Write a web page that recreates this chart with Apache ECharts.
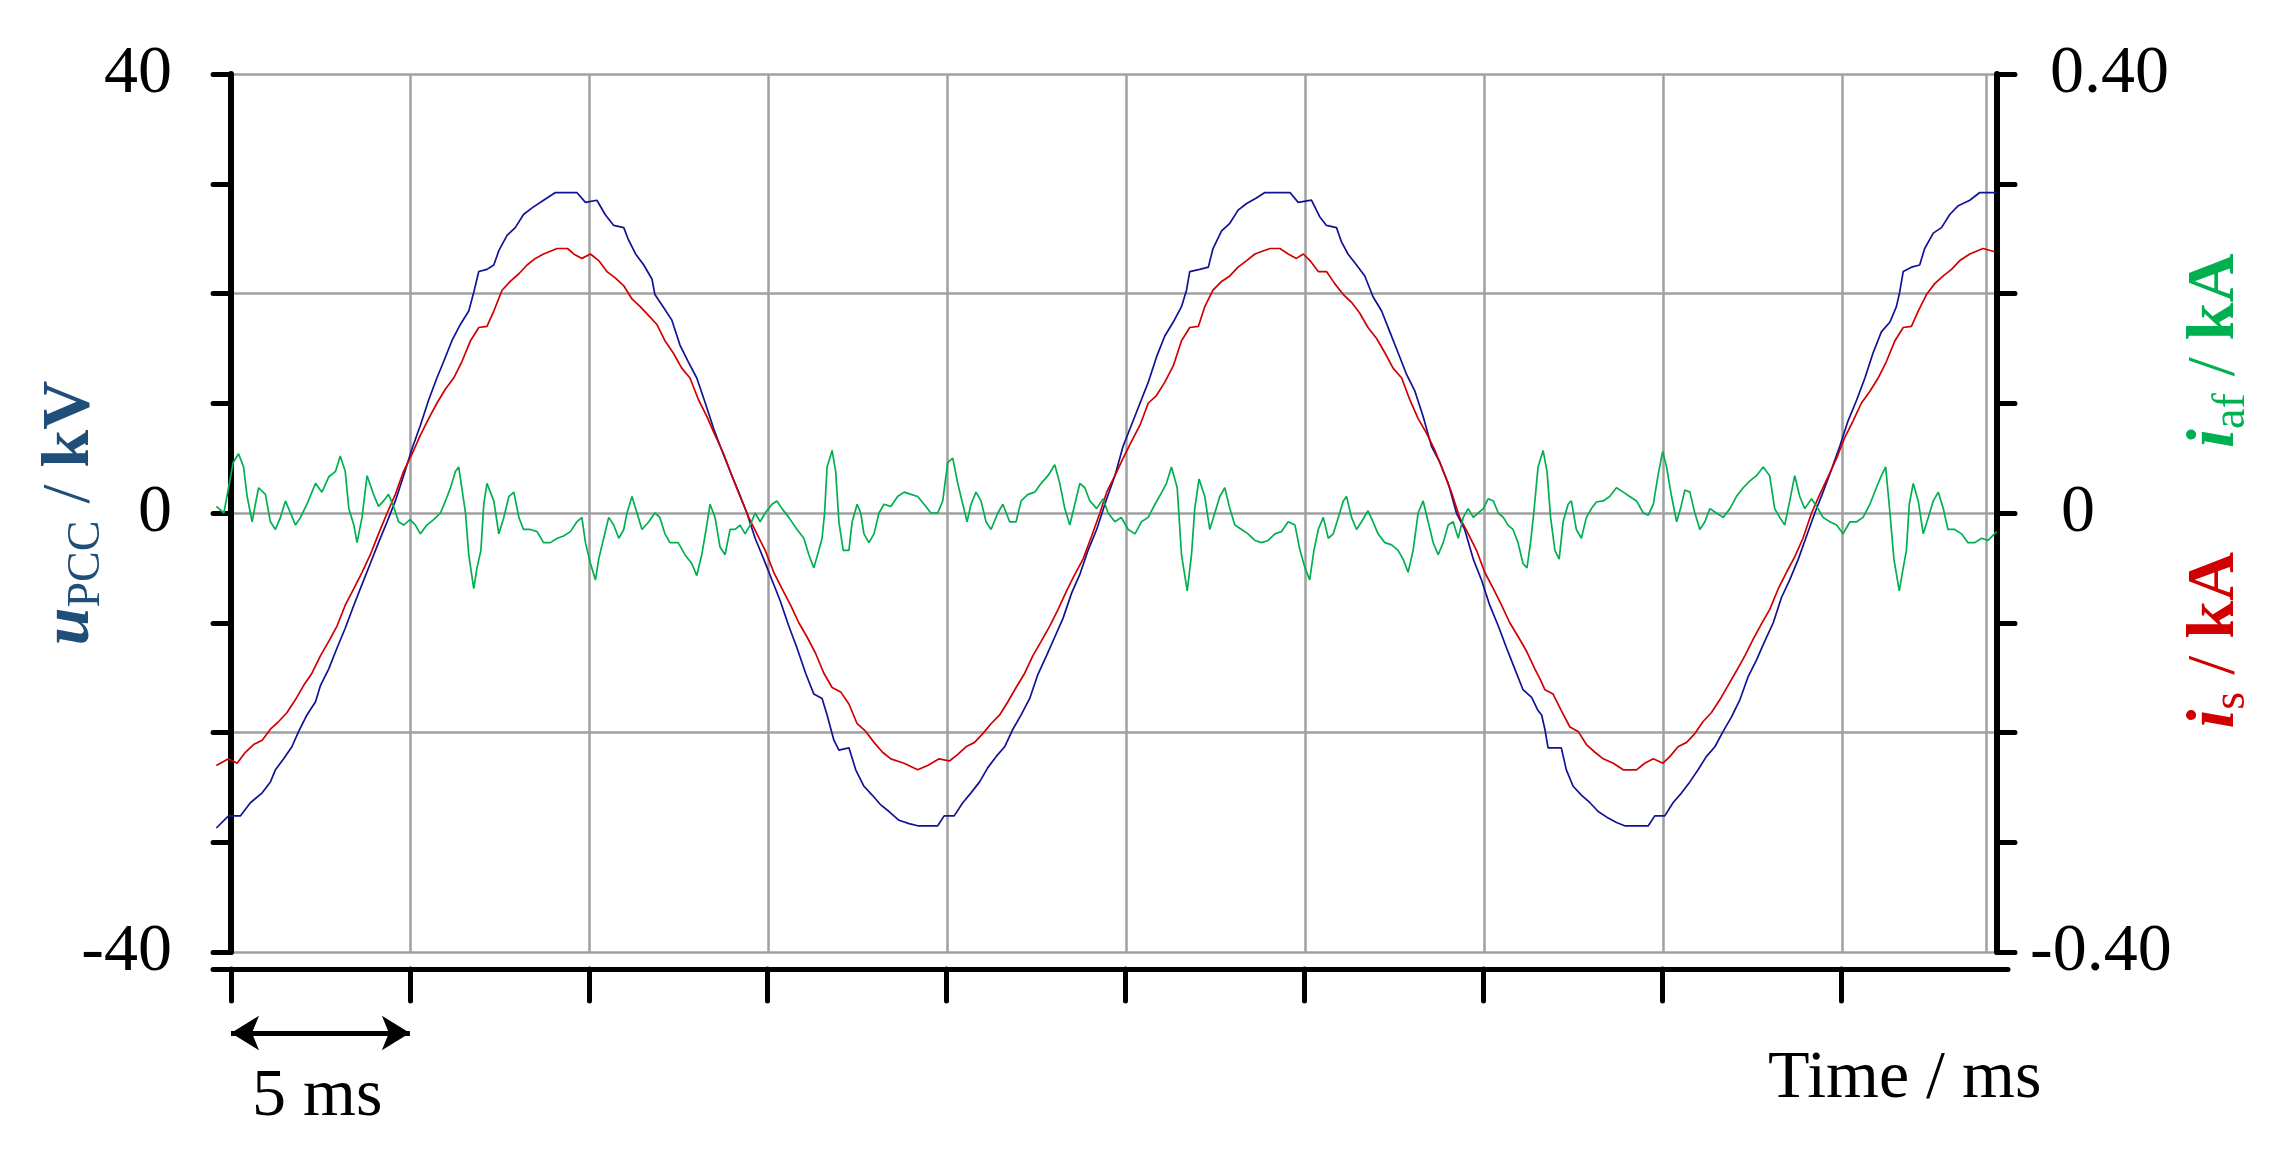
<!DOCTYPE html>
<html>
<head>
<meta charset="utf-8">
<script src="https://cdn.jsdelivr.net/npm/echarts@6/dist/echarts.min.js"></script>
<style>html,body{margin:0;padding:0;background:#fff;}#c{width:2282px;height:1157px;}</style>
</head>
<body>
<div id="c"></div>
<script>
// ---------- DATA (time in ms) ----------
const uTicksKV = [40, 0, -40];
const iTicksKA = ['0.40', '0', '-0.40'];
const scaleBarMs = [0, 5];

// u_PCC [ms, kV]
const uPCC = [
[-0.41,-28.7],[-0.07,-27.6],[0.26,-27.6],[0.54,-26.4],[0.87,-25.5],[1.10,-24.5],[1.24,-23.4],[1.47,-22.4],[1.70,-21.3],[1.89,-19.9],
[2.12,-18.4],[2.36,-17.2],[2.50,-15.7],[2.73,-14.2],[2.96,-12.3],[3.19,-10.5],[3.43,-8.4],[3.66,-6.5],[3.89,-4.6],[4.12,-2.7],
[4.36,-0.8],[4.59,1.1],[4.82,3.4],[5.06,5.9],[5.29,8.0],[5.52,10.3],[5.75,12.3],[5.94,13.8],[6.17,15.7],[6.41,17.2],
[6.64,18.4],[6.78,20.1],[6.92,22.0],[7.15,22.2],[7.34,22.6],[7.48,23.9],[7.71,25.3],[7.94,26.0],[8.17,27.2],[8.41,27.8],
[8.73,28.5],[9.06,29.2],[9.66,29.2],[9.90,28.3],[10.22,28.5],[10.45,27.2],[10.69,26.2],[10.97,26.0],[11.10,24.9],[11.30,23.6],
[11.53,22.6],[11.76,21.3],[11.84,19.9],[12.07,18.8],[12.31,17.6],[12.54,15.3],[12.77,13.8],[13.01,12.3],[13.24,10.1],[13.48,7.7],
[13.71,5.7],[13.94,3.8],[14.18,1.9],[14.41,0],[14.64,-2.3],[14.88,-4.2],[15.11,-6.1],[15.34,-8.0],[15.58,-10.3],[15.81,-12.3],
[16.05,-14.6],[16.28,-16.5],[16.51,-16.9],[16.65,-18.4],[16.84,-20.7],[16.98,-21.6],[17.26,-21.4],[17.45,-23.4],[17.68,-24.9],[17.91,-25.7],
[18.15,-26.6],[18.38,-27.2],[18.66,-28.0],[18.94,-28.3],[19.18,-28.5],[19.74,-28.5],[19.92,-27.6],[20.20,-27.6],[20.44,-26.4],[20.67,-25.5],
[20.91,-24.5],[21.14,-23.2],[21.37,-22.2],[21.61,-21.3],[21.84,-19.7],[22.07,-18.4],[22.31,-16.9],[22.54,-14.7],[22.78,-13.0],[23.01,-11.3],
[23.24,-9.6],[23.48,-7.3],[23.71,-5.6],[23.94,-3.4],[24.18,-1.5],[24.46,1.3],[24.69,3.4],[24.92,6.1],[25.15,8.0],[25.39,10.0],
[25.62,11.9],[25.85,14.2],[26.08,16.1],[26.32,17.4],[26.55,18.8],[26.69,20.3],[26.78,22.0],[27.06,22.2],[27.30,22.4],[27.43,24.1],
[27.67,25.7],[27.90,26.4],[28.13,27.6],[28.37,28.2],[28.64,28.7],[28.88,29.2],[29.58,29.2],[29.81,28.3],[30.18,28.5],[30.41,27.0],
[30.60,26.2],[30.88,26.0],[31.02,24.7],[31.20,23.6],[31.44,22.6],[31.67,21.6],[31.90,19.7],[32.14,18.4],[32.37,16.5],[32.60,14.6],
[32.84,12.6],[33.07,11.1],[33.30,8.8],[33.53,6.1],[33.77,4.6],[34.00,2.7],[34.23,0],[34.46,-1.5],[34.70,-4.2],[34.93,-6.1],
[35.16,-8.4],[35.40,-10.3],[35.63,-12.3],[35.86,-14.2],[36.09,-16.1],[36.33,-16.8],[36.51,-18.0],[36.61,-18.4],[36.70,-19.7],[36.79,-21.4],
[37.16,-21.4],[37.30,-23.4],[37.49,-24.9],[37.72,-25.7],[37.96,-26.4],[38.19,-27.2],[38.47,-27.8],[38.70,-28.2],[38.93,-28.5],[39.59,-28.5],
[39.77,-27.6],[40.05,-27.6],[40.28,-26.4],[40.52,-25.5],[40.75,-24.5],[40.98,-23.4],[41.21,-22.2],[41.45,-21.3],[41.68,-19.9],[41.91,-18.6],
[42.15,-17.0],[42.38,-14.9],[42.61,-13.4],[42.84,-11.7],[43.08,-10.0],[43.31,-7.7],[43.54,-6.1],[43.78,-4.2],[44.01,-2.1],[44.24,0],
[44.47,1.9],[44.71,4.0],[44.94,6.1],[45.17,8.4],[45.41,10.3],[45.64,12.3],[45.87,14.6],[46.10,16.5],[46.34,17.4],[46.52,18.8],
[46.61,20.1],[46.71,22.0],[46.94,22.4],[47.17,22.6],[47.31,24.1],[47.55,25.5],[47.78,26.0],[48.01,27.2],[48.25,28.0],[48.57,28.5],
[48.85,29.2],[49.32,29.2]
];

// i_s [ms, kA]
const iS = [
[-0.41,-0.230],[-0.07,-0.224],[0.17,-0.228],[0.40,-0.218],[0.63,-0.211],[0.87,-0.207],[1.10,-0.197],[1.33,-0.190],[1.56,-0.182],[1.80,-0.170],
[2.03,-0.157],[2.26,-0.146],[2.50,-0.130],[2.73,-0.117],[2.96,-0.103],[3.19,-0.084],[3.43,-0.069],[3.66,-0.054],[3.89,-0.038],[4.12,-0.019],
[4.36,0],[4.59,0.017],[4.82,0.038],[5.06,0.054],[5.29,0.071],[5.52,0.086],[5.75,0.100],[5.99,0.113],[6.22,0.123],[6.45,0.138],
[6.69,0.157],[6.92,0.169],[7.15,0.170],[7.34,0.184],[7.57,0.203],[7.80,0.211],[8.04,0.218],[8.27,0.226],[8.50,0.232],[8.73,0.236],
[9.11,0.241],[9.40,0.241],[9.57,0.236],[9.80,0.232],[10.04,0.236],[10.27,0.230],[10.50,0.220],[10.74,0.214],[10.97,0.207],[11.20,0.195],
[11.43,0.188],[11.66,0.180],[11.89,0.172],[12.12,0.157],[12.35,0.146],[12.59,0.132],[12.82,0.123],[13.06,0.103],[13.29,0.088],[13.52,0.071],
[13.76,0.054],[13.99,0.034],[14.22,0.015],[14.46,-0.004],[14.69,-0.019],[14.92,-0.034],[15.16,-0.054],[15.39,-0.069],[15.63,-0.084],[15.86,-0.100],
[16.09,-0.113],[16.33,-0.128],[16.56,-0.146],[16.79,-0.159],[17.03,-0.163],[17.26,-0.174],[17.49,-0.192],[17.73,-0.199],[17.96,-0.209],[18.20,-0.218],
[18.43,-0.224],[18.80,-0.228],[19.18,-0.234],[19.46,-0.230],[19.78,-0.224],[20.07,-0.226],[20.30,-0.220],[20.53,-0.213],[20.77,-0.209],[21.00,-0.201],
[21.23,-0.192],[21.47,-0.184],[21.70,-0.172],[21.93,-0.159],[22.17,-0.146],[22.40,-0.130],[22.63,-0.117],[22.87,-0.103],[23.10,-0.088],[23.34,-0.071],
[23.57,-0.056],[23.80,-0.042],[24.04,-0.021],[24.27,0],[24.46,0.019],[24.69,0.034],[24.92,0.050],[25.15,0.065],[25.39,0.080],[25.62,0.100],
[25.85,0.107],[26.08,0.119],[26.32,0.134],[26.55,0.157],[26.78,0.169],[27.02,0.170],[27.20,0.188],[27.43,0.203],[27.67,0.211],[27.90,0.216],
[28.13,0.224],[28.37,0.230],[28.60,0.236],[29.02,0.241],[29.30,0.241],[29.53,0.236],[29.76,0.232],[29.95,0.236],[30.14,0.230],[30.37,0.220],
[30.60,0.220],[30.83,0.209],[31.07,0.199],[31.30,0.192],[31.53,0.182],[31.76,0.169],[32.00,0.159],[32.23,0.146],[32.46,0.132],[32.70,0.123],
[32.93,0.103],[33.16,0.086],[33.39,0.073],[33.63,0.057],[33.86,0.038],[34.09,0.019],[34.32,-0.004],[34.56,-0.019],[34.79,-0.034],[35.02,-0.054],
[35.26,-0.069],[35.49,-0.084],[35.72,-0.100],[35.96,-0.113],[36.19,-0.126],[36.42,-0.142],[36.56,-0.151],[36.70,-0.161],[36.93,-0.165],[37.16,-0.180],
[37.40,-0.195],[37.63,-0.199],[37.86,-0.211],[38.10,-0.218],[38.33,-0.224],[38.61,-0.228],[38.89,-0.234],[39.26,-0.234],[39.49,-0.228],[39.73,-0.224],
[40.00,-0.228],[40.19,-0.222],[40.42,-0.213],[40.66,-0.209],[40.89,-0.201],[41.12,-0.190],[41.35,-0.182],[41.59,-0.170],[41.82,-0.157],[42.05,-0.144],
[42.29,-0.130],[42.52,-0.115],[42.75,-0.101],[42.98,-0.088],[43.22,-0.069],[43.45,-0.054],[43.68,-0.040],[43.91,-0.023],[44.15,0],[44.38,0.017],
[44.61,0.033],[44.85,0.050],[45.08,0.069],[45.31,0.084],[45.54,0.100],[45.78,0.111],[46.01,0.123],[46.24,0.138],[46.48,0.157],[46.71,0.169],
[46.94,0.170],[47.13,0.184],[47.36,0.199],[47.59,0.209],[47.83,0.216],[48.06,0.222],[48.29,0.230],[48.57,0.236],[48.94,0.241],[49.27,0.238]
];

// i_af [ms, kA]
const iAF = [
[-0.41,0.006],[-0.20,0],[-0.07,0.023],[0.06,0.046],[0.21,0.054],[0.35,0.042],[0.45,0.015],[0.59,-0.008],[0.68,0.008],[0.77,0.023],
[0.96,0.017],[1.10,-0.008],[1.24,-0.015],[1.38,-0.004],[1.52,0.011],[1.66,0],[1.80,-0.011],[1.94,-0.004],[2.12,0.008],[2.36,0.027],
[2.54,0.019],[2.73,0.033],[2.92,0.038],[3.05,0.052],[3.19,0.038],[3.29,0.004],[3.43,-0.011],[3.52,-0.027],[3.66,-0.004],[3.80,0.034],
[3.98,0.017],[4.12,0.006],[4.26,0.011],[4.40,0.017],[4.54,0.006],[4.68,-0.008],[4.82,-0.011],[5.00,-0.006],[5.15,-0.011],[5.29,-0.019],
[5.47,-0.011],[5.66,-0.006],[5.85,0],[5.99,0.011],[6.13,0.023],[6.27,0.038],[6.36,0.042],[6.55,0],[6.64,-0.038],[6.78,-0.069],
[6.87,-0.050],[6.98,-0.034],[7.06,0.008],[7.15,0.027],[7.34,0.011],[7.48,-0.019],[7.62,-0.004],[7.76,0.015],[7.90,0.019],[8.04,-0.004],
[8.17,-0.015],[8.36,-0.015],[8.55,-0.017],[8.73,-0.027],[8.92,-0.027],[9.11,-0.023],[9.29,-0.021],[9.48,-0.017],[9.66,-0.008],[9.80,-0.004],
[9.90,-0.027],[10.04,-0.046],[10.18,-0.061],[10.27,-0.042],[10.41,-0.023],[10.55,-0.004],[10.69,-0.011],[10.83,-0.023],[10.97,-0.015],[11.06,0],
[11.20,0.015],[11.34,0],[11.48,-0.015],[11.67,-0.008],[11.84,0],[11.98,-0.004],[12.12,-0.019],[12.26,-0.027],[12.49,-0.027],[12.68,-0.038],
[12.87,-0.046],[13.01,-0.057],[13.15,-0.038],[13.29,-0.011],[13.38,0.008],[13.52,-0.004],[13.66,-0.031],[13.80,-0.038],[13.94,-0.015],[14.08,-0.015],
[14.22,-0.011],[14.36,-0.019],[14.50,-0.011],[14.64,0],[14.78,-0.008],[14.92,0],[15.11,0.008],[15.25,0.011],[15.39,0.004],[15.58,-0.004],
[15.81,-0.015],[16.00,-0.023],[16.14,-0.038],[16.28,-0.050],[16.42,-0.034],[16.51,-0.023],[16.58,0],[16.65,0.042],[16.79,0.057],[16.89,0.038],
[16.98,-0.008],[17.10,-0.034],[17.26,-0.034],[17.35,-0.008],[17.49,0.008],[17.59,0],[17.68,-0.019],[17.82,-0.027],[17.96,-0.019],[18.10,0],
[18.24,0.008],[18.43,0.006],[18.62,0.015],[18.80,0.019],[18.99,0.017],[19.18,0.015],[19.36,0.008],[19.55,0],[19.74,0],[19.88,0.011],
[20.02,0.046],[20.16,0.050],[20.30,0.027],[20.44,0.008],[20.56,-0.008],[20.67,0.008],[20.81,0.019],[20.95,0.011],[21.09,-0.008],[21.23,-0.015],
[21.42,0],[21.56,0.008],[21.75,-0.008],[21.93,-0.008],[22.07,0.011],[22.26,0.017],[22.45,0.019],[22.63,0.027],[22.82,0.034],[23.01,0.044],
[23.15,0.027],[23.29,0.004],[23.43,-0.011],[23.57,0.008],[23.71,0.027],[23.85,0.023],[23.99,0.011],[24.18,0.004],[24.36,0.013],[24.50,0],
[24.69,-0.008],[24.87,-0.004],[25.06,-0.015],[25.25,-0.019],[25.43,-0.008],[25.62,-0.004],[25.81,0.008],[26.00,0.019],[26.13,0.027],[26.27,0.042],
[26.43,0.023],[26.55,-0.038],[26.71,-0.071],[26.83,-0.038],[26.92,0.004],[27.04,0.031],[27.20,0.015],[27.34,-0.015],[27.48,0],[27.62,0.015],
[27.76,0.023],[27.90,0.004],[28.04,-0.011],[28.23,-0.015],[28.41,-0.019],[28.60,-0.025],[28.79,-0.027],[28.97,-0.025],[29.16,-0.019],[29.34,-0.017],
[29.53,-0.008],[29.72,-0.011],[29.86,-0.034],[30.00,-0.050],[30.13,-0.061],[30.25,-0.034],[30.37,-0.015],[30.51,-0.004],[30.65,-0.023],[30.79,-0.019],
[30.93,-0.004],[31.07,0.011],[31.16,0.015],[31.30,-0.004],[31.44,-0.015],[31.58,-0.008],[31.76,0.002],[31.90,-0.008],[32.04,-0.019],[32.23,-0.027],
[32.42,-0.029],[32.60,-0.034],[32.74,-0.042],[32.88,-0.054],[33.02,-0.034],[33.16,0],[33.30,0.011],[33.44,-0.008],[33.58,-0.027],[33.72,-0.038],
[33.86,-0.027],[34.00,-0.011],[34.14,-0.008],[34.28,-0.023],[34.42,-0.004],[34.56,0.004],[34.70,-0.004],[34.84,0],[34.98,0.004],[35.12,0.013],
[35.26,0.011],[35.40,0],[35.54,-0.004],[35.67,-0.011],[35.81,-0.015],[35.95,-0.027],[36.09,-0.046],[36.20,-0.050],[36.30,-0.027],[36.39,0],
[36.51,0.042],[36.65,0.057],[36.76,0.038],[36.86,-0.004],[36.98,-0.034],[37.10,-0.042],[37.21,-0.008],[37.35,0.008],[37.44,0.011],[37.58,-0.015],
[37.72,-0.023],[37.86,-0.004],[38.00,0.004],[38.14,0.010],[38.33,0.011],[38.51,0.015],[38.70,0.023],[38.89,0.019],[39.07,0.015],[39.26,0.011],
[39.45,0],[39.59,-0.002],[39.73,0.008],[39.86,0.034],[39.99,0.056],[40.10,0.042],[40.24,0.015],[40.38,-0.008],[40.49,0.004],[40.61,0.021],
[40.75,0.019],[40.89,0],[41.03,-0.015],[41.17,-0.008],[41.31,0.004],[41.49,0],[41.68,-0.004],[41.87,0.004],[42.05,0.015],[42.24,0.023],
[42.42,0.029],[42.61,0.034],[42.80,0.042],[42.98,0.034],[43.12,0.004],[43.26,-0.004],[43.40,-0.011],[43.54,0.011],[43.68,0.034],[43.82,0.015],
[43.96,0.004],[44.15,0.013],[44.33,0.004],[44.47,-0.004],[44.66,-0.008],[44.85,-0.011],[45.03,-0.019],[45.22,-0.008],[45.41,-0.008],[45.59,-0.004],
[45.78,0.008],[45.96,0.023],[46.10,0.034],[46.22,0.042],[46.34,0],[46.45,-0.042],[46.60,-0.071],[46.71,-0.050],[46.80,-0.034],[46.88,0.008],
[46.99,0.027],[47.13,0.011],[47.27,-0.019],[47.41,-0.004],[47.55,0.011],[47.69,0.019],[47.83,0.004],[47.96,-0.015],[48.15,-0.015],[48.34,-0.019],
[48.52,-0.027],[48.71,-0.027],[48.90,-0.023],[49.08,-0.025],[49.32,-0.017]
];

// ---------- STYLE ----------
const FONT = '"Liberation Serif","Times New Roman",Times,serif';
const C_U = '#121294', C_IS = '#D00000', C_IAF = '#00B050';
const C_GRID = '#A0A0A0';
const FS = 68, FS_SUB = 46, LH = 79;

function tok(extra) { return Object.assign({ fontFamily: FONT, fontSize: FS, lineHeight: LH }, extra || {}); }

const chart = echarts.init(document.getElementById('c'), null, { renderer: 'canvas' });

const blackAxis = { show: true, lineStyle: { color: '#000', width: 6 } };
const blackTick = { show: true, inside: false, length: 18, lineStyle: { color: '#000', width: 5, cap: 'round' } };

const option = {
  animation: false,
  backgroundColor: '#fff',
  title: [
    { text: 'Time / ms', left: 1768, top: 1045, padding: 0,
      textStyle: { fontFamily: FONT, fontSize: FS, fontWeight: 'normal', color: '#000', lineHeight: FS } },
    { text: '5 ms', left: 252, top: 1063, padding: 0,
      textStyle: { fontFamily: FONT, fontSize: FS, fontWeight: 'normal', color: '#000', lineHeight: FS } }
  ],
  grid: [
    { left: 216, top: 74, width: 1781, height: 878, outerBoundsMode: 'none' },   // data
    { left: 231, top: 74, width: 1755, height: 878, outerBoundsMode: 'none' },   // vertical grid lines
    { left: 231, top: 969, width: 1610, height: 80, outerBoundsMode: 'none' },   // bottom ticks + scale bar
    { left: 213, top: 969, width: 1795, height: 80, outerBoundsMode: 'none' }    // bottom axis line
  ],
  xAxis: [
    { gridIndex: 0, type: 'value', min: -0.42, max: 49.33, show: false },
    { gridIndex: 1, type: 'value', min: 0, max: 49.02, interval: 5,
      axisLine: { show: false }, axisTick: { show: false }, axisLabel: { show: false },
      splitLine: { show: true, lineStyle: { color: C_GRID, width: 2.5 } } },
    { gridIndex: 2, type: 'value', min: 0, max: 45, interval: 5, position: 'top',
      axisLine: { show: false, onZero: false }, axisLabel: { show: false }, splitLine: { show: false },
      axisTick: { show: true, inside: true, length: 32, lineStyle: { color: '#000', width: 5, cap: 'round' } } },
    { gridIndex: 3, type: 'value', min: 0, max: 1, position: 'top',
      axisLine: { show: true, onZero: false, lineStyle: { color: '#000', width: 5 } },
      axisTick: { show: false }, axisLabel: { show: false }, splitLine: { show: false } }
  ],
  yAxis: [
    { gridIndex: 0, type: 'value', position: 'left', min: -40, max: 40, interval: 10,
      axisLine: blackAxis, axisTick: blackTick, splitLine: { show: false },
      axisLabel: { show: true, margin: 44, color: '#000', fontFamily: FONT, fontSize: FS,
        formatter: v => (uTicksKV.indexOf(v) >= 0 ? String(v) : '') },
      name: '{ui|u}{sub|PCC}{n| / }{b|kV}', nameLocation: 'middle', nameRotate: 90, nameGap: 106,
      nameMoveOverlap: false,
      nameTextStyle: { color: '#1F4E79', fontFamily: FONT, fontSize: FS, lineHeight: LH,
        rich: {
          ui: tok({ color: '#1F4E79', fontStyle: 'italic', fontWeight: 'bold' }),
          sub: { color: '#1F4E79', fontFamily: FONT, fontSize: FS_SUB, lineHeight: FS_SUB, verticalAlign: 'bottom' },
          n: tok({ color: '#1F4E79' }),
          b: tok({ color: '#1F4E79', fontWeight: 'bold' })
        } } },
    { gridIndex: 0, type: 'value', position: 'right', min: -0.4, max: 0.4, interval: 0.1,
      axisLine: blackAxis, axisTick: blackTick, splitLine: { show: false },
      axisLabel: { show: true, margin: 33, color: '#000', fontFamily: FONT, fontSize: FS,
        formatter: v => {
          if (Math.abs(v - 0.4) < 1e-9) return '{p|' + iTicksKA[0] + '}';
          if (Math.abs(v) < 1e-9) return '{z|' + iTicksKA[1] + '}';
          if (Math.abs(v + 0.4) < 1e-9) return '{m|' + iTicksKA[2] + '}';
          return '';
        },
        rich: {
          p: { fontFamily: FONT, fontSize: FS, color: '#000', padding: [0, 0, 0, 20] },
          z: { fontFamily: FONT, fontSize: FS, color: '#000', padding: [0, 0, 0, 31] },
          m: { fontFamily: FONT, fontSize: FS, color: '#000', padding: [0, 0, 0, 0] }
        } },
      name: '{lead| }{ri|i}{rs|s}{rn| / }{rb|kA}{gap| }{gi|i}{gs|af}{gn| / }{gb|kA}',
      nameLocation: 'middle', nameRotate: 90, nameGap: 179, nameMoveOverlap: false,
      nameTextStyle: { fontFamily: FONT, fontSize: FS, lineHeight: LH,
        rich: {
          lead: tok({ width: 44 }),
          ri: tok({ color: C_IS, fontStyle: 'italic', fontWeight: 'bold' }),
          rs: { color: C_IS, fontFamily: FONT, fontSize: FS_SUB, lineHeight: FS_SUB, verticalAlign: 'bottom' },
          rn: tok({ color: C_IS }),
          rb: tok({ color: C_IS, fontWeight: 'bold' }),
          gap: tok({ width: 104 }),
          gi: tok({ color: C_IAF, fontStyle: 'italic', fontWeight: 'bold' }),
          gs: { color: C_IAF, fontFamily: FONT, fontSize: FS_SUB, lineHeight: FS_SUB, verticalAlign: 'bottom' },
          gn: tok({ color: C_IAF }),
          gb: tok({ color: C_IAF, fontWeight: 'bold' })
        } } },
    { gridIndex: 0, type: 'value', position: 'left', min: -40, max: 40, interval: 20,
      axisLine: { show: false }, axisTick: { show: false }, axisLabel: { show: false },
      splitLine: { show: true, lineStyle: { color: C_GRID, width: 2.5 } } },
    { gridIndex: 1, type: 'value', min: 0, max: 1, show: false },
    { gridIndex: 2, type: 'value', min: 0, max: 1, show: false },
    { gridIndex: 3, type: 'value', min: 0, max: 1, show: false }
  ],
  series: [
    { name: 'uPCC', type: 'line', xAxisIndex: 0, yAxisIndex: 0, data: uPCC, showSymbol: false,
      lineStyle: { color: C_U, width: 1.7 }, itemStyle: { color: C_U }, z: 3 },
    { name: 'is', type: 'line', xAxisIndex: 0, yAxisIndex: 1, data: iS, showSymbol: false,
      lineStyle: { color: C_IS, width: 1.7 }, itemStyle: { color: C_IS }, z: 3 },
    { name: 'iaf', type: 'line', xAxisIndex: 0, yAxisIndex: 1, data: iAF, showSymbol: false,
      lineStyle: { color: C_IAF, width: 1.7 }, itemStyle: { color: C_IAF }, z: 4 },
    { name: 'scale', type: 'line', xAxisIndex: 2, yAxisIndex: 4, data: [], showSymbol: false,
      markLine: { silent: true, animation: false, symbol: ['arrow', 'arrow'], symbolSize: [26, 28],
        label: { show: false }, lineStyle: { color: '#000', width: 5, type: 'solid' },
        data: [[{ coord: [scaleBarMs[0], 0.2] }, { coord: [scaleBarMs[1], 0.2] }]] } }
  ]
};
chart.setOption(option);
</script>
</body>
</html>
